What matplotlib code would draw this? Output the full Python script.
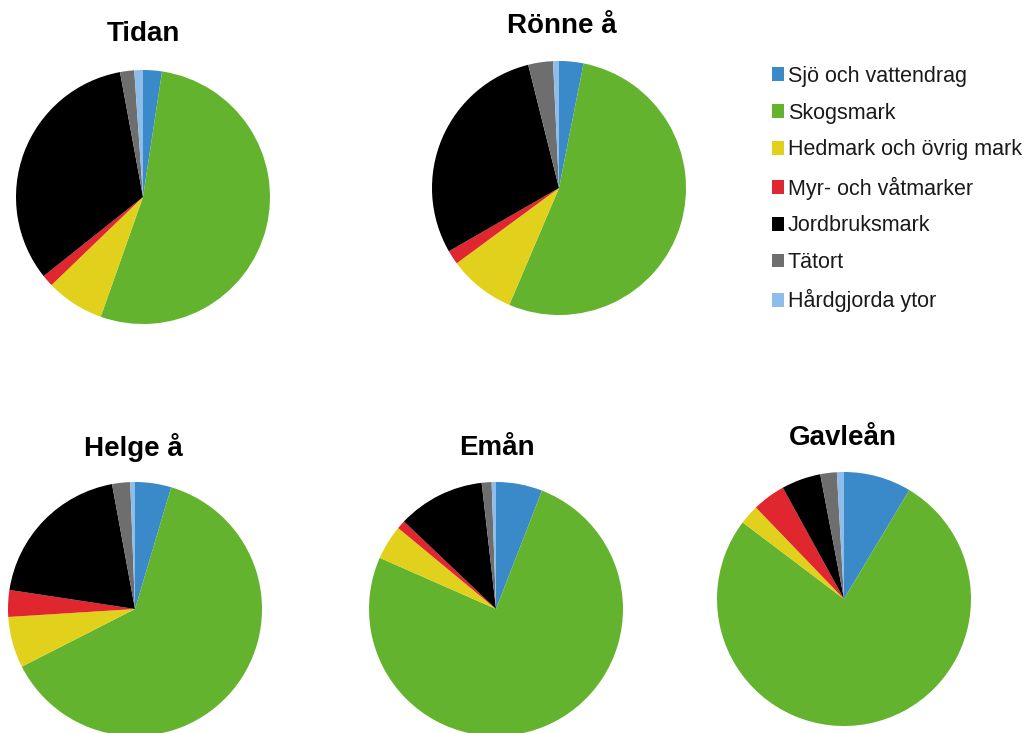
import matplotlib.pyplot as plt

plt.rcParams['font.family'] = ['Liberation Sans', 'DejaVu Sans']

categories = ["Sjö och vattendrag", "Skogsmark", "Hedmark och övrig mark",
              "Myr- och våtmarker", "Jordbruksmark", "Tätort", "Hårdgjorda ytor"]
colors = ["#3a89c9", "#63b32e", "#e2d11c", "#e0262f", "#000000", "#6e6e6e", "#8fbde9"]

# land use share (%) per catchment, same order as categories
tidan = [2.4, 53.0, 7.4, 1.5, 32.8, 1.8, 1.1]
ronne_a = [3.1, 53.3, 8.5, 1.8, 29.4, 3.15, 0.75]
helge_a = [4.6, 62.9, 6.5, 3.4, 19.7, 2.3, 0.6]
eman = [5.9, 75.7, 4.4, 1.1, 11.1, 1.25, 0.55]
gavlean = [8.6, 76.7, 2.5, 4.2, 5.0, 2.1, 0.9]

names = ["Tidan", "Rönne å", "Helge å", "Emån", "Gavleån"]
series = [tidan, ronne_a, helge_a, eman, gavlean]

W, H = 1031, 733
# pie centres and title positions in pixels (from top-left)
centres = [(143, 197), (559, 188), (135, 609), (496, 609), (844, 599)]
title_pos = [(143, 34), (562, 26), (133, 448), (497, 448), (843, 438)]
R = 127

fig = plt.figure(figsize=(W / 100, H / 100), dpi=100)

wedges = None
for name, vals, (cx, cy), (tx, ty) in zip(names, series, centres, title_pos):
    ax = fig.add_axes([(cx - R) / W, (H - cy - R) / H, 2 * R / W, 2 * R / H])
    w, _ = ax.pie(vals, colors=colors, startangle=90, counterclock=False,
                  radius=1.0, wedgeprops=dict(linewidth=0))
    ax.set_xlim(-1, 1)
    ax.set_ylim(-1, 1)
    ax.set_aspect('equal')
    ax.axis('off')
    if wedges is None:
        wedges = w
    fig.text(tx / W, 1 - ty / H, name, ha='center', va='center',
             fontsize=20, fontweight='bold')

fig.legend(wedges, categories, loc='upper left', bbox_to_anchor=(763 / W, 1 - 57 / H),
           frameon=False, fontsize=15.5, handlelength=0.58, handleheight=0.58,
           handletextpad=0.18, labelspacing=0.74, borderaxespad=0,
           labelcolor='#1a1a1a')

fig.savefig("out.png", dpi=100)
